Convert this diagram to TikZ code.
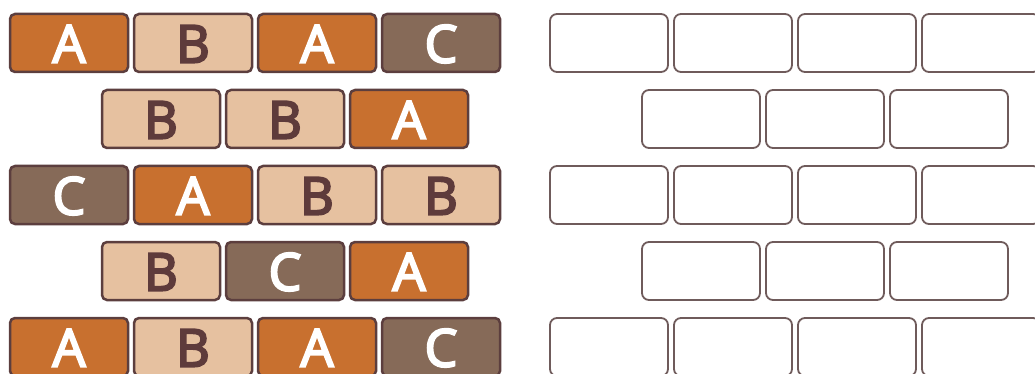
\documentclass[tikz,border=0pt]{standalone}
\usepackage{fontspec}
\setmainfont{Open Sans}
\newfontfamily\brickfont[FakeBold=4]{Open Sans}
\usepackage{tikz}
\usetikzlibrary{positioning}
\definecolor{BrickEdge}{HTML}{5C3E3E}
\definecolor{BrickA}{HTML}{C8702F}
\definecolor{BrickB}{HTML}{E6C1A0}
\definecolor{BrickC}{HTML}{866A58}
\definecolor{BrickInk}{HTML}{5E3B3B}
\definecolor{SlotEdge}{HTML}{6F5B5B}

\begin{document}
\begin{tikzpicture}[x=1pt,y=-1pt,
    brick/.style={draw=BrickEdge, line width=2.5pt, rounded corners=5pt, minimum width=118pt, minimum height=58pt, inner sep=0pt, text height=39pt, text depth=0pt, font=\fontsize{52}{52}\brickfont},
    brickA/.style={brick, fill=BrickA, text=white},
    brickB/.style={brick, fill=BrickB, text=BrickInk},
    brickC/.style={brick, fill=BrickC, text=white},
    slot/.style={draw=SlotEdge, line width=1.8pt, rounded corners=7pt, minimum width=118pt, minimum height=58pt}]
    \clip (0,0) rectangle (1035,374);

    % left wall, filled bricks
    \node[brickA] (L1a) at (69,43) {A};
    \node[brickB] (L1b) at (193,43) {B};
    \node[brickA] (L1c) at (317,43) {A};
    \node[brickC] (L1d) at (441,43) {C};

    \node[brickB] (L2a) at (161,119) {B};
    \node[brickB] (L2b) at (285,119) {B};
    \node[brickA] (L2c) at (409,119) {A};

    \node[brickC] (L3a) at (69,195) {C};
    \node[brickA] (L3b) at (193,195) {A};
    \node[brickB] (L3c) at (317,195) {B};
    \node[brickB] (L3d) at (441,195) {B};

    \node[brickB] (L4a) at (161,271) {B};
    \node[brickC] (L4b) at (285,271) {C};
    \node[brickA] (L4c) at (409,271) {A};

    \node[brickA] (L5a) at (69,347) {A};
    \node[brickB] (L5b) at (193,347) {B};
    \node[brickA] (L5c) at (317,347) {A};
    \node[brickC] (L5d) at (441,347) {C};

    % right wall, empty slots
    \node[slot] (R1a) at (609,43) {};
    \node[slot] (R1b) at (733,43) {};
    \node[slot] (R1c) at (857,43) {};
    \node[slot] (R1d) at (981,43) {};

    \node[slot] (R2a) at (701,119) {};
    \node[slot] (R2b) at (825,119) {};
    \node[slot] (R2c) at (949,119) {};

    \node[slot] (R3a) at (609,195) {};
    \node[slot] (R3b) at (733,195) {};
    \node[slot] (R3c) at (857,195) {};
    \node[slot] (R3d) at (981,195) {};

    \node[slot] (R4a) at (701,271) {};
    \node[slot] (R4b) at (825,271) {};
    \node[slot] (R4c) at (949,271) {};

    \node[slot] (R5a) at (609,347) {};
    \node[slot] (R5b) at (733,347) {};
    \node[slot] (R5c) at (857,347) {};
    \node[slot] (R5d) at (981,347) {};
  \end{tikzpicture}
\end{document}
